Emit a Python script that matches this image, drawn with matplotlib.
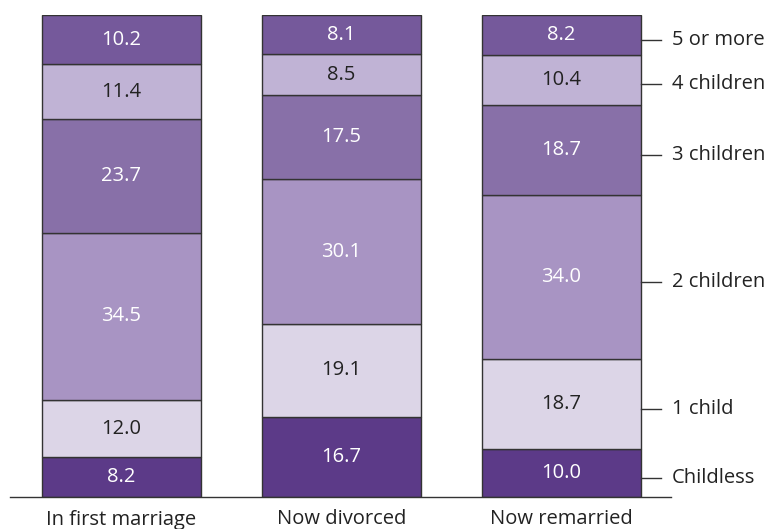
import matplotlib
matplotlib.use("Agg")
import matplotlib.pyplot as plt
import numpy as np

plt.rcParams['font.family'] = ['Open Sans', 'DejaVu Sans']

# share of women by number of children, per marital status (%)
groups = ["In first marriage", "Now divorced", "Now remarried"]
categories = ["Childless", "1 child", "2 children", "3 children", "4 children", "5 or more"]
childless = [8.2, 16.7, 10.0]
one_child = [12.0, 19.1, 18.7]
two_children = [34.5, 30.1, 34.0]
three_children = [23.7, 17.5, 18.7]
four_children = [11.4, 8.5, 10.4]
five_plus = [10.2, 8.1, 8.2]

series = [childless, one_child, two_children, three_children, four_children, five_plus]
colors = ["#5C3A88", "#DCD5E7", "#A894C3", "#8870A8", "#C0B3D5", "#75599B"]
text_colors = ["white", "#222222", "white", "white", "#222222", "white"]

W, H = 769, 529
fig = plt.figure(figsize=(W / 100, H / 100), dpi=100)
# axes run from the left end of the baseline to its right end
ax = fig.add_axes([10 / W, (H - 497) / H, 661 / W, 482 / H])

x = np.arange(len(groups))
width = 0.723
bottom = np.zeros(len(groups))
fs = 14.5
for vals, col, tcol in zip(series, colors, text_colors):
    vals = np.array(vals)
    ax.bar(x, vals, width, bottom=bottom, color=col, edgecolor="#333333", linewidth=1.0)
    for xi, b, v in zip(x, bottom, vals):
        ax.text(xi, b + v / 2, f"{v:.1f}", ha="center", va="center",
                color=tcol, fontsize=fs)
    bottom += vals

# category labels on the right, pointing at the last bar's segments
b = 0
for name, vals in zip(categories, series):
    mid = b + vals[-1] / 2 - 1.0
    ax.plot([2.362, 2.453], [mid, mid], color="#333333", lw=1, clip_on=False)
    ax.text(2.503, mid, name, ha="left", va="center", fontsize=fs, color="#222222")
    b += vals[-1]

ax.set_xlim(-0.505, 2.498)
ax.set_ylim(0, 100)
ax.set_xticks(x)
ax.set_xticklabels(groups, fontsize=fs, color="#222222")
ax.tick_params(axis="x", length=0, pad=9)
ax.set_yticks([])
for s in ["top", "right", "left"]:
    ax.spines[s].set_visible(False)
ax.spines["bottom"].set_color("#333333")
ax.spines["bottom"].set_linewidth(1)
ax.patch.set_alpha(0)

fig.savefig("out.png", dpi=100)
